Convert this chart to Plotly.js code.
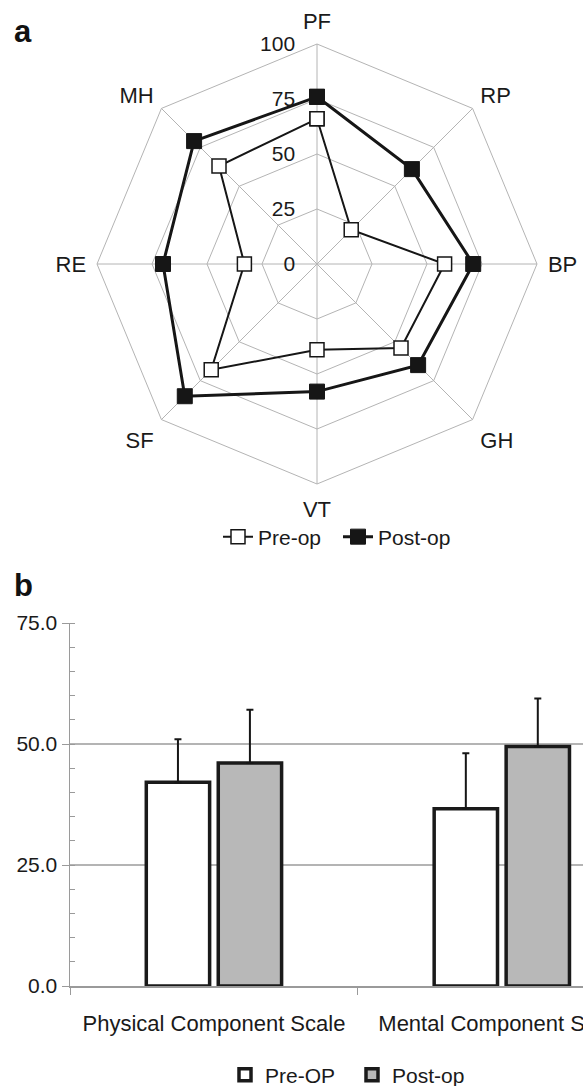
<!DOCTYPE html>
<html><head><meta charset="utf-8">
<script src="https://cdn.plot.ly/plotly-3.0.1.min.js"></script>
<style>html,body{margin:0;padding:0;background:#fff;overflow:hidden}#chart{width:583px;height:1100px}</style>
</head><body><div id="chart"></div>
<script>
const radarCategories = ['PF','RP','BP','GH','VT','SF','RE','MH'];
const radarPreOp = [66,22,58,54,39,68,33,63];
const radarPostOp = [76,61,71,65,58,85,70,79];
const radarTicks = [0,25,50,75,100];
const barCategories = ['Physical Component Scale','Mental Component Scale'];
const barPreOp = [42.1,36.6];
const barPreOpSD = [8.9,11.5];
const barPostOp = [46.1,49.5];
const barPostOpSD = [11.0,9.9];
const barTicks = [0,25,50,75];
const barTickText = ['0.0','25.0','50.0','75.0'];

const closeLoop = a => a.concat([a[0]]);
const INK = '#161616';
const GRID = '#b4b4b4';

const traces = [
  {type:'scatterpolar', name:'Pre-op', legend:'legend',
   theta: closeLoop(radarCategories), r: closeLoop(radarPreOp),
   mode:'lines+markers', line:{color:INK, width:2},
   marker:{symbol:'square', size:14, color:'#ffffff', line:{color:INK, width:1.5}},
   cliponaxis:false},
  {type:'scatterpolar', name:'Post-op', legend:'legend',
   theta: closeLoop(radarCategories), r: closeLoop(radarPostOp),
   mode:'lines+markers', line:{color:INK, width:3},
   marker:{symbol:'square', size:15, color:INK, line:{color:INK, width:1}},
   cliponaxis:false},
  {type:'bar', name:'Pre-OP', legend:'legend2', x: barCategories, y: barPreOp,
   marker:{color:'#ffffff', line:{color:'#1a1a1a', width:3.5}},
   error_y:{type:'data', symmetric:false, array:barPreOpSD, arrayminus:[0,0], color:INK, thickness:2, width:3.5}},
  {type:'bar', name:'Post-op', legend:'legend2', x: barCategories, y: barPostOp,
   marker:{color:'#b8b8b8', line:{color:'#1a1a1a', width:3.5}},
   error_y:{type:'data', symmetric:false, array:barPostOpSD, arrayminus:[0,0], color:INK, thickness:2, width:3.5}}
];

const H = 1100, W = 583;
const py = v => 1 - v / H;

const layout = {
  width: W, height: H,
  margin:{l:0, r:0, t:0, b:0},
  paper_bgcolor:'#ffffff', plot_bgcolor:'#ffffff',
  font:{family:'"Liberation Sans", Arial, sans-serif', size:21, color:'#1a1a1a'},
  showlegend:true,
  polar:{
    domain:{x:[(317-220)/W, (317+220)/W], y:[py(264+220), py(264-220)]},
    gridshape:'linear', bgcolor:'#ffffff',
    angularaxis:{type:'category', categoryarray:radarCategories, direction:'clockwise', rotation:90,
      showline:true, linecolor:GRID, linewidth:1, showgrid:true, gridcolor:GRID, gridwidth:1,
      ticks:'outside', ticklen:6, tickcolor:'rgba(0,0,0,0)', tickfont:{size:22}},
    radialaxis:{range:[0,100], tickmode:'array', tickvals:radarTicks, angle:90, side:'counterclockwise',
      tickangle:90, showline:false, showgrid:true, gridcolor:GRID, gridwidth:1,
      ticks:'outside', ticklen:14, tickcolor:'rgba(0,0,0,0)', tickfont:{size:21}}
  },
  xaxis:{domain:[70/W, 1], range:[-0.5, 1.282], type:'category',
    showline:true, linecolor:'#9a9a9a', linewidth:1.5, ticks:'outside', tickson:'boundaries',
    ticklen:7, tickcolor:'#9a9a9a', showgrid:false, zeroline:false, tickfont:{size:22}, ticklabelstandoff:17},
  yaxis:{domain:[py(986), py(623)], range:[0,75], tickmode:'array', tickvals:barTicks, ticktext:barTickText,
    showline:true, linecolor:'#9a9a9a', linewidth:1.5, ticks:'outside', ticklen:7, tickcolor:'#9a9a9a',
    showgrid:true, gridcolor:GRID, gridwidth:1.5, zeroline:false, tickfont:{size:21},
    minor:{ticks:'inside', tick0:0, dtick:5, ticklen:5, tickcolor:'#9a9a9a', showgrid:false}},
  barmode:'group', bargap:0.5, bargroupgap:0.12,
  legend:{orientation:'h', x:218/W, xanchor:'left', y:py(537), yanchor:'middle',
    font:{size:21}, bgcolor:'rgba(0,0,0,0)', entrywidth:75, entrywidthmode:'pixels', tracegroupgap:0},
  legend2:{orientation:'h', x:225/W, xanchor:'left', y:py(1075), yanchor:'middle',
    font:{size:21}, bgcolor:'rgba(0,0,0,0)', entrywidth:82, entrywidthmode:'pixels'},
  annotations:[
    {text:'<b>a</b>', xref:'paper', yref:'paper', x:12/W, y:py(32), xanchor:'left', yanchor:'middle', showarrow:false, font:{size:31, color:'#111'}},
    {text:'<b>b</b>', xref:'paper', yref:'paper', x:12/W, y:py(585), xanchor:'left', yanchor:'middle', showarrow:false, font:{size:31, color:'#111'}}
  ]
};

Plotly.newPlot('chart', traces, layout, {staticPlot:true, displayModeBar:false});
</script></body></html>
